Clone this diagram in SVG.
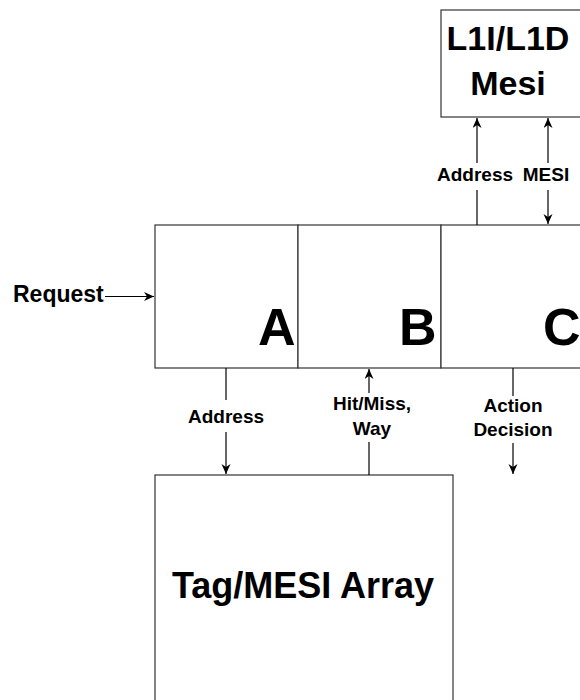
<svg xmlns="http://www.w3.org/2000/svg" width="580" height="700" viewBox="0 0 580 700">
<style>
.box{fill:#fff;stroke:#333;stroke-width:1.2}
.ln{fill:none;stroke:#000;stroke-width:1.2}
text{font-family:"Liberation Sans",Arial,Helvetica,sans-serif;font-weight:bold;fill:#000}
.lbl{font-size:19px;text-anchor:middle}
.big{font-size:52px}
</style>
<defs>
<marker id="arr" markerUnits="userSpaceOnUse" markerWidth="12" markerHeight="10" refX="10" refY="4.5" orient="auto-start-reverse">
<path d="M0,0 L10,4.5 L0,9 L3,4.5 z" fill="#000"/>
</marker>
</defs>
<rect width="580" height="700" fill="#fff"/>
<g id="l1">
<rect class="box" x="441" y="10" width="145" height="107"/>
<text x="508" y="50" font-size="34" text-anchor="middle">L1I/L1D</text>
<text x="508" y="95" font-size="34" text-anchor="middle">Mesi</text>
</g>
<g id="A">
<rect class="box" x="155" y="225" width="143" height="143"/>
<text class="big" x="258" y="345">A</text>
</g>
<g id="B">
<rect class="box" x="298" y="225" width="143" height="143"/>
<text class="big" x="399" y="345">B</text>
</g>
<g id="C">
<rect class="box" x="441" y="225" width="145" height="143"/>
<text class="big" x="543" y="345">C</text>
</g>
<g id="tag">
<rect class="box" x="155" y="475" width="298" height="240"/>
<text x="303" y="598" font-size="36" text-anchor="middle">Tag/MESI Array</text>
</g>
<g id="connectors">
<text x="13" y="302" font-size="23">Request</text>
<line class="ln" x1="105" y1="296.5" x2="154" y2="296.5" marker-end="url(#arr)"/>
<line class="ln" x1="477" y1="225" x2="477" y2="190"/>
<line class="ln" x1="477" y1="163" x2="477" y2="118" marker-end="url(#arr)"/>
<text class="lbl" x="475" y="181">Address</text>
<line class="ln" x1="548" y1="163" x2="548" y2="118" marker-end="url(#arr)"/>
<line class="ln" x1="548" y1="190" x2="548" y2="224" marker-end="url(#arr)"/>
<text class="lbl" x="546" y="181">MESI</text>
<line class="ln" x1="226" y1="368" x2="226" y2="400"/>
<line class="ln" x1="226" y1="432" x2="226" y2="474" marker-end="url(#arr)"/>
<text class="lbl" x="226" y="423">Address</text>
<line class="ln" x1="369" y1="475" x2="369" y2="442"/>
<line class="ln" x1="369" y1="393" x2="369" y2="369" marker-end="url(#arr)"/>
<text class="lbl" x="372" y="410">Hit/Miss,</text>
<text class="lbl" x="372" y="435">Way</text>
<line class="ln" x1="513" y1="368" x2="513" y2="396"/>
<line class="ln" x1="513" y1="443" x2="513" y2="474" marker-end="url(#arr)"/>
<text class="lbl" x="513" y="412">Action</text>
<text class="lbl" x="513" y="436">Decision</text>
</g>
</svg>
